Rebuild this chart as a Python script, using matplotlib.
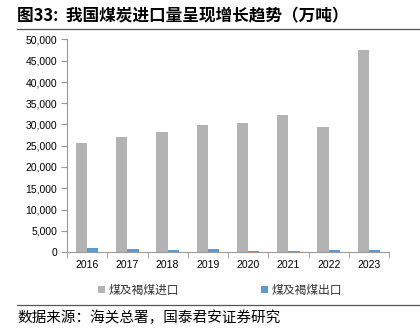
import numpy as np
import matplotlib.pyplot as plt
from matplotlib.ticker import FuncFormatter

plt.rcParams['font.family'] = ['Liberation Sans', 'Noto Sans CJK SC', 'DejaVu Sans']

#%% data (万吨)
years = ['2016', '2017', '2018', '2019', '2020', '2021', '2022', '2023']
imports = [25543, 27090, 28123, 29977, 30399, 32322, 29320, 47442]
exports = [879, 817, 494, 603, 319, 260, 400, 453]

title = '图33:  我国煤炭进口量呈现增长趋势（万吨）'
source = '数据来源：海关总署，国泰君安证券研究'
labels = ['煤及褐煤进口', '煤及褐煤出口']

#%% figure
fig = plt.figure(figsize=(4.2, 3.31), dpi=100)
ax = fig.add_axes([67/420, 1-252/331, (389-67)/420, (252-39.5)/331])

x = np.arange(len(years))
w = 0.28
b1 = ax.bar(x - w/2, imports, w, color='#b3b3b3', label=labels[0])
b2 = ax.bar(x + w/2, exports, w, color='#5b9bd5', label=labels[1])

ax.set_xlim(-0.5, len(years) - 0.5)
ax.set_ylim(0, 50000)
ax.set_yticks(np.arange(0, 50001, 5000))
ax.yaxis.set_major_formatter(FuncFormatter(lambda v, p: f'{int(v):,}'))
ax.set_xticks(x)
ax.set_xticklabels(years)
ax.set_xticks(np.arange(-0.5, len(years), 1), minor=True)
ax.tick_params(axis='x', which='major', length=0, pad=6, labelsize=7.5)
ax.tick_params(axis='x', which='minor', length=4, color='#999999', direction='out')
ax.tick_params(axis='y', length=4, color='#999999', labelsize=7.5, pad=3)

for s in ['top', 'right']:
    ax.spines[s].set_visible(False)
for s in ['left', 'bottom']:
    ax.spines[s].set_color('#999999')
    ax.spines[s].set_linewidth(0.8)

leg = fig.legend(handles=[b1, b2], loc='center', bbox_to_anchor=(0.524, 1-290/331),
                 ncol=2, frameon=False, handlelength=0.6, handleheight=0.6,
                 handletextpad=0.3, columnspacing=7,
                 prop={'family': ['Noto Sans CJK SC'], 'size': 8.5})
for t in leg.get_texts():
    t.set_color('#333333')

fig.text(17/420, 1-16/331, title, fontsize=12, fontweight='bold',
         family=['Noto Sans CJK SC'], va='center', ha='left')
fig.add_artist(plt.Line2D([17/420, 1], [1-29/331, 1-29/331], color='#555555', lw=0.9))
fig.add_artist(plt.Line2D([17/420, 1], [1-305/331, 1-305/331], color='#555555', lw=0.9))
fig.text(17/420, 1-318/331, source, fontsize=10.5,
         family=['Noto Sans CJK SC'], va='center', ha='left')

fig.savefig('out.png', dpi=100)
